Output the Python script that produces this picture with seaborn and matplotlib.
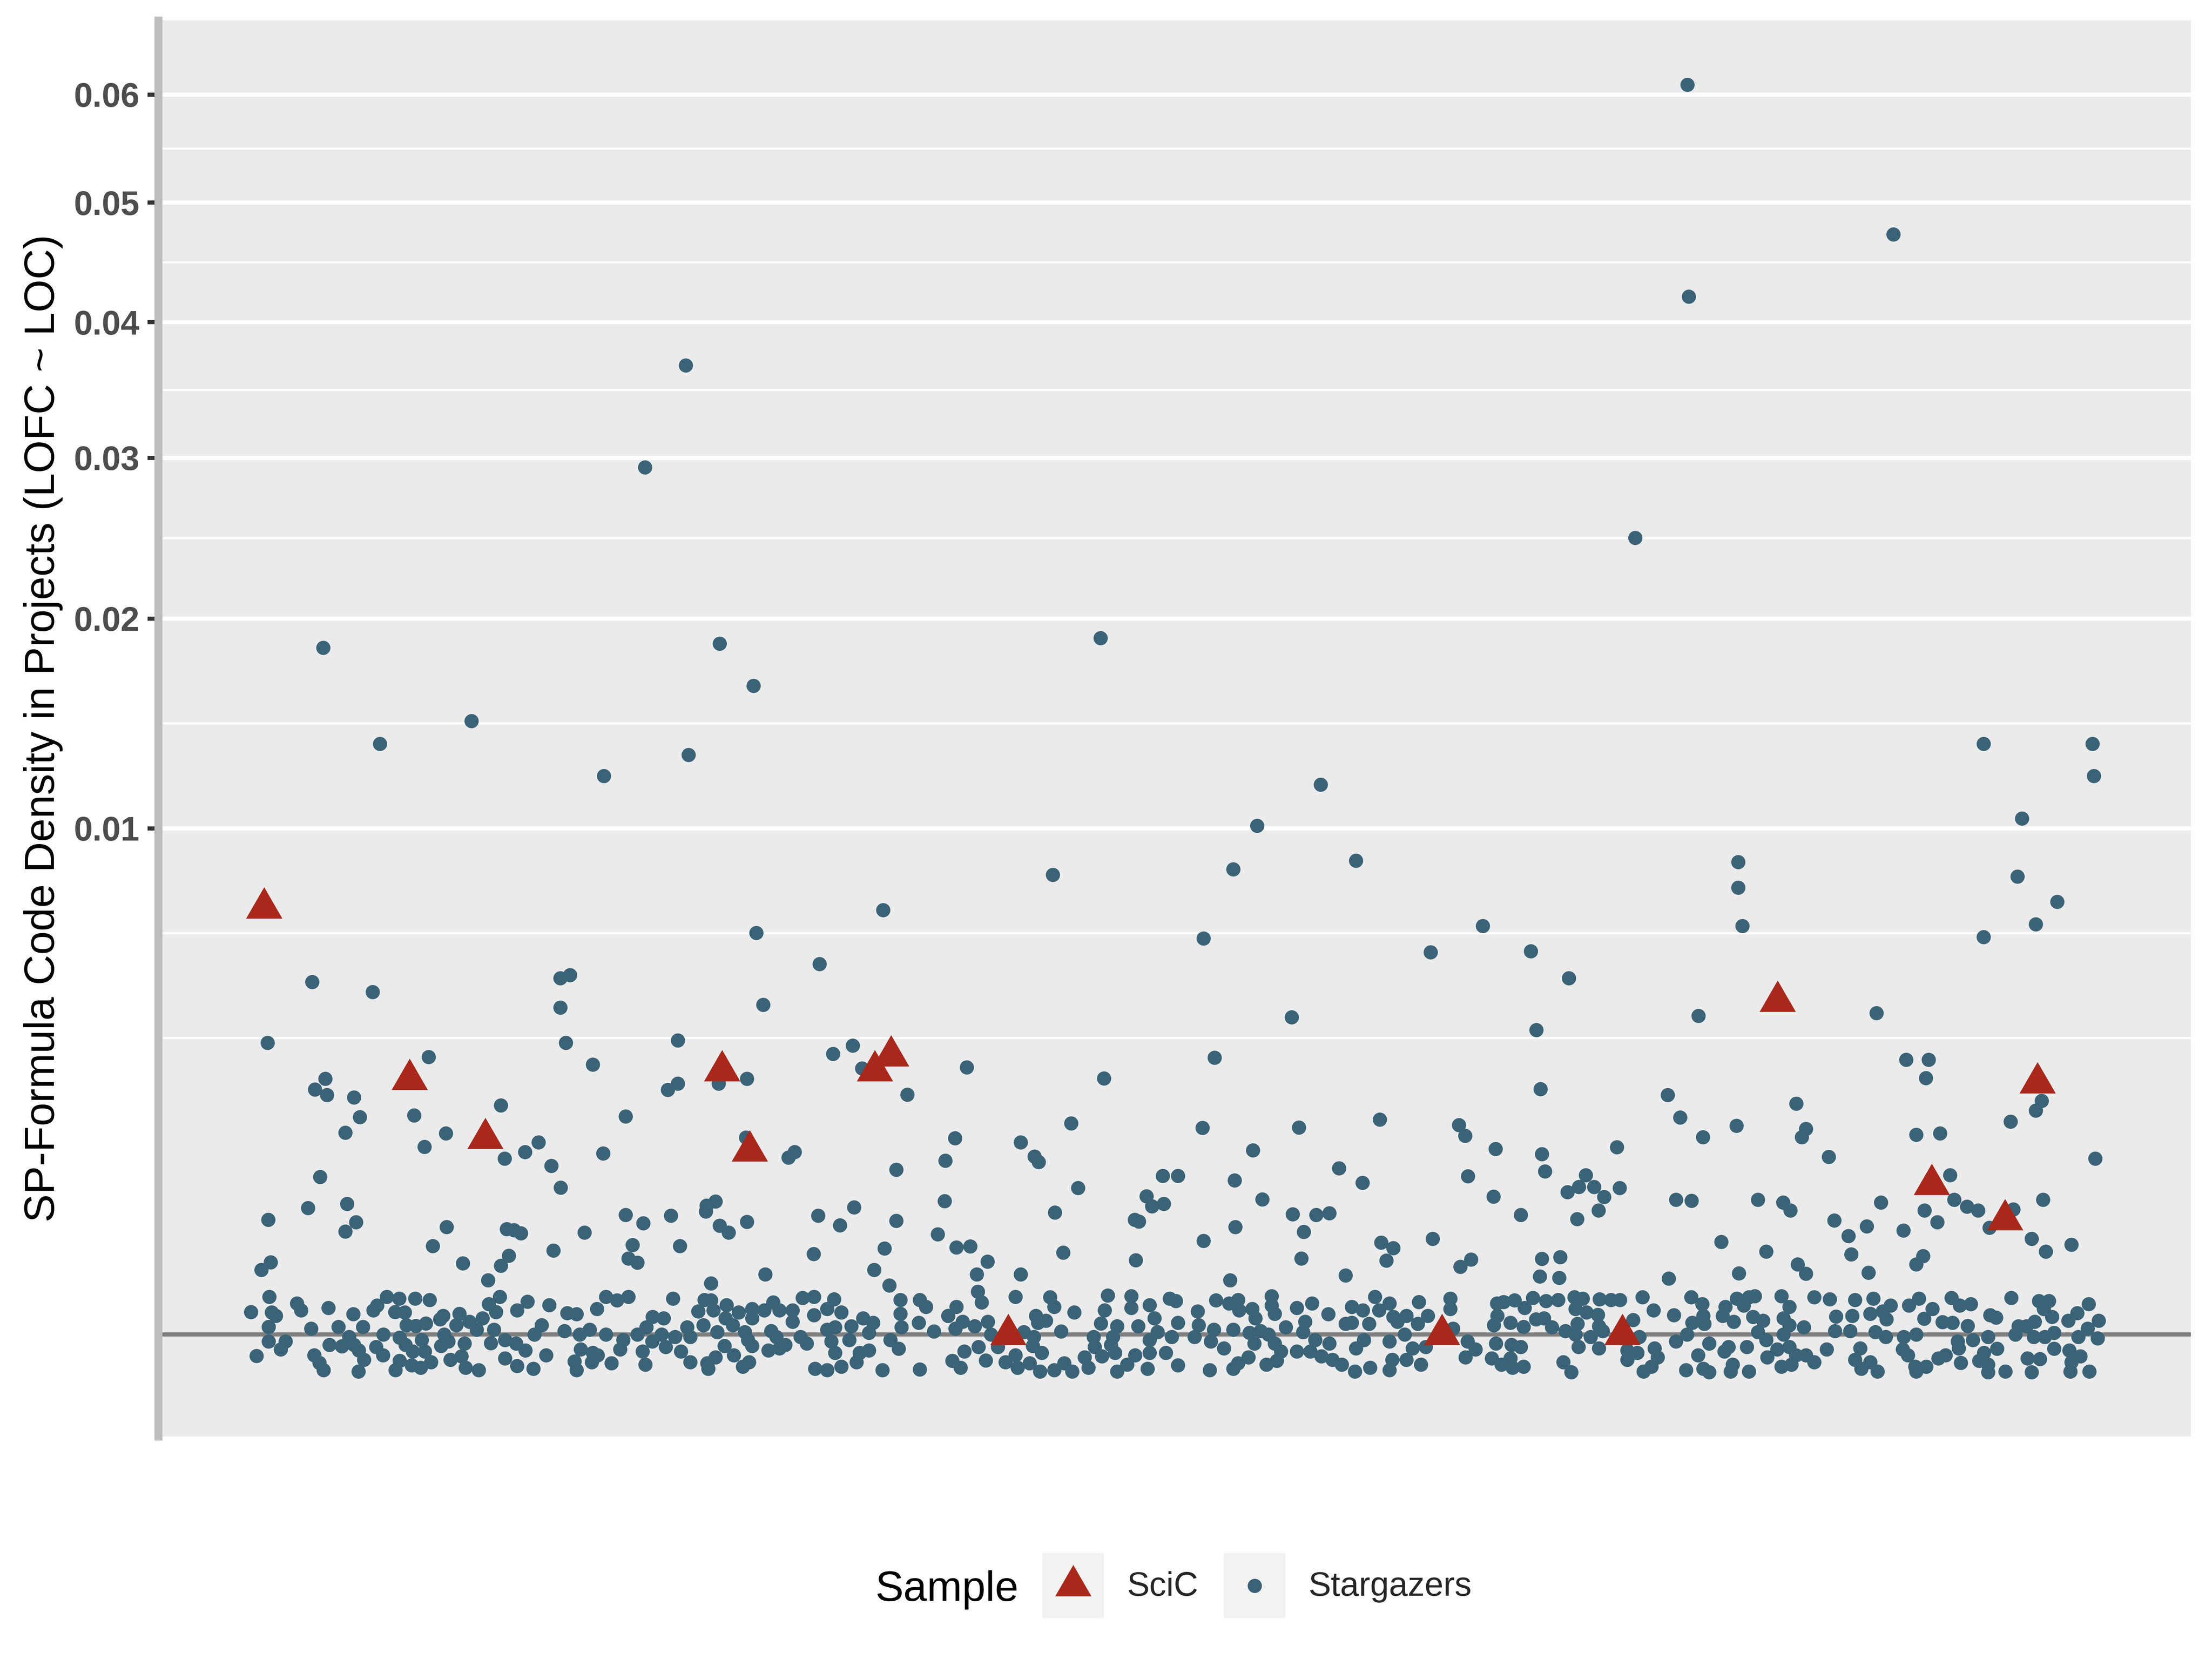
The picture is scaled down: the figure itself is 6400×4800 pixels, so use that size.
import numpy as np
import pandas as pd
import matplotlib
matplotlib.use('Agg')
import matplotlib.pyplot as plt
import seaborn as sns
from matplotlib.markers import MarkerStyle
from matplotlib.path import Path
from matplotlib.lines import Line2D
from matplotlib.patches import Rectangle
from matplotlib.legend_handler import HandlerBase
from matplotlib.ticker import FixedLocator

# (x position, density in millionths)
sg_upper_left = [(93.4, 18410), (198.3, 36650), (186.5, 29360), (208.1, 18640), (217.9, 16420),
                 (136.3, 14690), (109.8, 13620), (199.1, 13110), (174.6, 12170), (218.7, 6300),
                 (237.0, 5360), (164.8, 5040), (162.0, 4960), (90.2, 4850), (107.7, 4580)]

sg_mid_left = [(162.0, 4173), (220.7, 4246), (77.3, 3321), (163.6, 3321), (196.0, 3373), (246.6, 3257),
               (240.9, 3075), (123.9, 3008), (171.4, 2842), (249.3, 2768), (94.0, 2553), (91.0, 2346),
               (94.5, 2242), (102.3, 2192), (196.0, 2455), (193.1, 2335), (207.8, 2455), (216.0, 2553),
               (144.8, 2048), (104.0, 1842), (119.7, 1873), (180.9, 1858), (99.8, 1588), (128.9, 1577),
               (122.7, 1373), (155.7, 1440), (151.8, 1300), (145.9, 1207), (159.4, 1112), (174.4, 1280),
               (215.7, 1517), (229.8, 1298), (228.0, 1223), (92.5, 970), (162.1, 844), (89.0, 624),
               (100.3, 668), (77.5, 515), (102.9, 493), (99.8, 413), (129.1, 451), (146.5, 434),
               (148.6, 425), (150.6, 401), (169.0, 407), (180.9, 557), (186.0, 484), (194.0, 552),
               (204.3, 650), (206.9, 692), (204.1, 590), (208.1, 462), (210.7, 407), (216.0, 497),
               (236.6, 553), (242.9, 465), (247.0, 633), (125.1, 306), (182.9, 312), (196.6, 306),
               (181.7, 226), (184.3, 201), (160.0, 276), (147.1, 242), (144.8, 184), (133.8, 198),
               (78.2, 204), (75.5, 163), (235.3, 254)]

sg_upper_centre = [(255.4, 7030), (318.2, 18940), (304.4, 8250), (348.0, 6120), (356.6, 8450),
                   (363.5, 10110), (381.9, 11800), (392.1, 8760), (413.7, 5700), (428.8, 6520)]

sg_mid_centre = [(373.5, 3928), (279.6, 2783), (351.2, 2990), (319.2, 2558), (262.4, 2244), (309.7, 1740),
                 (347.7, 1666), (375.6, 1673), (399.0, 1803), (421.9, 1710), (423.7, 1541), (432.5, 1343),
                 (276.2, 1507), (295.1, 1440), (299.1, 1238), (300.3, 1163), (259.2, 1059), (273.4, 1178),
                 (362.3, 1326), (387.2, 1081), (394.0, 897), (424.5, 977), (336.2, 981), (340.6, 981),
                 (357.0, 929), (311.7, 840), (331.5, 745), (333.1, 641), (336.5, 668), (365.0, 714),
                 (273.2, 696), (431.9, 742), (305.0, 581), (259.2, 505), (328.1, 515), (329.3, 500),
                 (373.8, 565), (380.6, 559), (384.4, 573), (357.2, 452), (377.0, 411), (271.2, 393),
                 (255.8, 288), (276.6, 296), (280.6, 303), (307.4, 263), (348.0, 343), (399.4, 331),
                 (402.9, 291), (414.3, 357), (376.3, 226), (400.9, 214), (425.4, 219), (422.3, 180),
                 (252.8, 163), (285.6, 208), (328.4, 216)]

sg_right = [(488.0, 60960), (488.4, 42060), (547.5, 47240), (472.9, 24780), (573.6, 13620), (605.1, 13620),
            (605.5, 12170), (584.7, 10390), (502.7, 8710), (502.7, 7800), (583.4, 8190), (594.9, 7310),
            (503.9, 6520), (588.7, 6570), (573.6, 6170), (442.7, 5740), (453.7, 4960), (491.2, 3960),
            (542.6, 4030), (444.3, 3620), (551.2, 2950), (557.7, 2950), (556.9, 2570), (445.5, 2350),
            (482.3, 2240), (519.4, 2080), (485.9, 1837), (588.7, 1960), (590.4, 2130), (581.4, 1770),
            (522.2, 1650), (502.2, 1700), (554.1, 1560), (561.0, 1580), (492.5, 1520), (521.0, 1520),
            (467.6, 1370), (445.9, 1270), (528.8, 1230), (605.9, 1210), (446.8, 1040), (458.6, 990),
            (563.9, 990), (468.4, 840), (456.6, 850), (461.0, 850), (453.3, 790), (463.9, 740),
            (565.1, 710), (508.4, 710), (543.9, 680), (484.7, 710), (489.2, 700), (515.7, 680),
            (568.8, 640), (572.0, 600), (582.2, 610), (590.8, 710), (517.8, 600), (556.5, 600),
            (575.3, 446), (560.2, 494), (462.3, 600), (456.1, 519), (439.8, 558), (530.4, 507),
            (534.5, 378), (550.4, 423), (587.5, 357), (599.0, 316), (591.6, 268), (497.8, 336),
            (445.9, 224), (451.2, 233), (519.8, 192), (535.3, 250), (554.1, 192), (556.1, 241),
            (539.8, 458), (510.8, 268)]

sg_band_1 = [(141.1, 115), (77.8, 55), (72.5, 20), (78.5, 19), (79.7, 13.5), (77.6, 2.3), (77.6, -1.8),
             (82.5, -1.8), (81.1, -8.6), (74.1, -18), (85.8, 38), (87.0, 23), (94.9, 28), (89.9, 1.4),
             (102.1, 16), (97.8, 2.3), (104.9, 2.3), (100.9, -0.2), (95.2, -4.1), (98.8, -5.5),
             (102.3, -4.1), (103.7, -9.9), (90.8, -16.5), (92.3, -31), (93.5, -49), (103.6, -53),
             (105.2, -25), (107.9, 23), (109.0, 33), (111.8, 55), (115.4, 50), (120.0, 50), (124.2, 47),
             (114.2, 20), (117.0, 19), (117.5, 3.5), (120.2, 3.0), (123.1, 4.8), (110.8, 0), (108.7, -6),
             (110.7, -16.5), (115.5, -0.4), (117.2, -4.1), (119.3, -11.4), (121.9, -1.2), (122.8, -11.4),
             (115.5, -27), (114.3, -49), (119.0, -37), (121.6, -43), (124.6, -30), (128.1, 13.5),
             (127.2, 9), (132.8, 17), (131.9, 3.5), (135.7, 6.5), (137.8, 0.9), (139.5, 10.4), (141.3, 36),
             (143.4, 20), (144.5, 55), (142.8, 0.9), (128.4, 0), (129.6, -1.8), (127.5, -5), (134.3, -3.2),
             (130.2, -25), (133.4, -18.4), (134.6, -43), (138.4, -49), (141.9, -2.8), (146.0, -1.2),
             (149.2, -3.2), (146.0, -22.5), (149.5, -39), (152.5, 42.5), (149.5, 23), (154.5, 0),
             (151.9, -9.9), (154.2, -46), (156.6, 3.5)]

sg_band_2 = [(205.6, 102), (221.3, 141), (158.8, 34), (157.9, -16.5), (164.0, 18), (166.7, 16), (163.2, 0.5),
             (167.6, 0), (170.5, 0.9), (172.6, 25.5), (175.2, 55), (178.4, 46), (181.7, 55), (175.2, 0),
             (167.9, -8.6), (171.4, -13), (172.8, -16.5), (166.1, -28), (166.7, -49), (171.1, -30),
             (176.8, -32), (180.2, -1.2), (179.3, -8.6), (184.3, 0), (186.9, 2), (188.7, 12), (191.9, 10.4),
             (188.6, -1.8), (191.3, 0), (195.2, -0.2), (192.5, -6), (185.8, -11.4), (186.6, -35),
             (196.9, -11.4), (198.7, 2), (199.6, -0.2), (199.6, -30), (194.6, 50), (201.9, 21), (203.7, 47),
             (205.6, 46), (203.4, 3.5), (206.3, 23), (207.4, 0.2), (210.1, 34), (209.8, 10.4), (211.9, 3.5),
             (213.6, 19), (217.5, 25.5), (217.5, 10.4), (221.0, 23), (223.6, 40), (225.4, 23), (229.2, 23),
             (229.2, 6.5), (232.1, 52), (235.4, 55), (235.4, 14.4), (239.2, 25.5), (241.2, 49), (243.3, 19),
             (241.5, 2), (246.2, 2.7), (245.6, -1.2), (215.4, 0.2), (217.5, -5), (216.3, -1.2), (223.0, 0.5),
             (224.5, -0.2), (227.1, -4.1), (222.2, -9.9), (225.4, -7.3), (231.5, -0.2), (233.3, -3.2),
             (209.5, -5), (206.9, -20.4), (212.2, -16.5), (214.8, -40), (216.6, -30), (204.8, -46),
             (204.5, -32), (235.7, -46), (239.2, -49), (243.3, -40), (240.4, -1.8), (241.5, -13),
             (247.7, -30), (248.6, -13), (239.2, 0.9)]

sg_band_3 = [(282.5, 141), (295.1, 141), (257.2, 94), (260.4, 47), (260.4, 17), (260.7, 2), (266.0, 47),
             (267.8, 30), (265.7, 5.3), (270.1, 0.4), (249.6, 10.4), (252.5, 5.3), (251.3, 0.1),
             (257.5, -1.2), (259.9, -7.9), (251.3, -9.9), (255.2, -49), (266.0, -47.5), (276.6, 30),
             (274.2, 13.5), (278.4, 6.5), (276.3, 1.4), (281.9, 2.7), (285.7, 6.5), (286.6, 0), (282.8, 72),
             (283.9, 40), (293.6, 55), (283.0, -6), (278.9, -11.4), (275.4, -27), (277.8, -43), (285.1, -26),
             (288.6, -6), (290.7, -30), (293.6, -16.5), (294.2, -43), (296.0, 0.2), (298.9, -0.2),
             (298.6, -5), (301.2, -13), (297.7, -32), (299.5, 13.5), (300.1, 5.3), (302.4, 7.6), (303.6, 54),
             (304.8, 30), (310.6, 19), (306.8, 0.4), (300.7, -53), (304.8, -49), (307.7, -32), (310.0, -53),
             (313.6, -20.4), (314.7, -43), (316.2, -0.2), (316.5, -6), (318.6, -18.4), (320.3, 60),
             (319.4, 23), (318.3, 4.8), (323.0, 2.7), (321.8, -0.2), (321.2, -4.1), (322.4, -13),
             (323.0, -53), (327.1, 57), (327.1, 28), (329.1, 2.7), (332.4, 34), (333.8, 10.4), (334.7, 0.2),
             (332.4, -1.2), (332.4, -13), (328.2, -16.5), (325.9, -35), (331.8, -46), (338.2, 50),
             (340.0, 44), (340.6, 5.3), (338.8, -0.2), (337.1, -13), (340.6, -37)]

sg_band_4 = [(355.7, 115), (389.1, 136), (346.3, 21), (346.6, 3.5), (351.6, 46), (355.4, 38), (358.0, 47),
             (358.3, 23), (362.1, 25.5), (363.0, 10.4), (367.7, 57), (367.7, 33), (368.6, 17), (345.4, -0.2),
             (351.0, 0.9), (356.6, 0.9), (350.1, -1.8), (353.9, -7.3), (349.8, -49), (361.3, 0.1),
             (364.5, 0.5), (366.8, 0), (362.7, -3.2), (368.6, -3.2), (370.4, -11.4), (369.2, -27),
             (366.2, -35), (361.0, -20.4), (358.0, -32), (356.6, -46), (375.0, 28), (379.4, 38), (384.1, 16),
             (371.8, 2), (377.4, 6.5), (376.8, 0.2), (380.3, -1.2), (384.4, -3.2), (375.0, -11.4),
             (378.9, -11.4), (382.1, -18.4), (385.3, -25), (388.0, -35), (390.9, 5.3), (389.1, 4.4),
             (390.9, 30), (394.1, 23), (397.6, 55), (398.8, 23), (401.8, 38), (402.9, 12), (395.9, 4.4),
             (394.4, -1.2), (392.1, -7.3), (401.8, -1.8), (406.2, 0), (404.1, 6.5), (406.7, 13.5),
             (410.3, 41), (410.0, 4.4), (412.9, 13.5), (419.4, 50), (419.4, 25.5), (420.2, 1.4), (412.3, -6),
             (408.5, -7.3), (406.7, -25), (410.9, -35), (402.6, -25), (401.8, -49), (396.2, -43),
             (391.8, -53), (424.4, -1.8), (426.7, -8.6), (423.8, -20.4), (432.9, 38), (432.0, 3.5),
             (432.6, -3.2), (431.4, -22.5)]

sg_band_5 = [(445.3, 131), (450.9, 126), (482.6, 123), (502.9, 146), (522.2, 144), (434.8, 41), (438.0, 46),
             (440.9, 28), (443.3, 52), (447.1, 44), (450.6, 47), (455.3, 54), (457.7, 50), (455.6, 25.5),
             (458.8, 19), (462.6, 49), (465.9, 47), (468.5, 47), (462.1, 15), (475.0, 54), (478.2, 23),
             (484.1, 14.4), (433.0, 13.5), (436.8, 5.3), (440.6, 2.3), (444.2, 9), (446.5, 10.4), (448.8, 2),
             (452.7, 0.5), (456.2, 4.4), (455.6, 0), (462.4, 2.7), (463.5, 0.5), (460.0, -0.2), (456.5, -6),
             (462.4, -7.3), (472.3, 8.3), (474.1, -0.2), (437.1, -4.1), (439.8, -6), (436.8, -22.5),
             (434.2, -35), (437.4, -43), (440.6, -40), (452.1, -30), (454.4, -55), (470.6, -9.9),
             (470.6, -25), (473.5, -13), (475.3, -53), (477.6, -40), (478.5, -7.3), (479.4, -20.4),
             (484.7, -1.8), (487.9, 0), (489.4, 5.3), (489.1, 54), (492.3, 36), (492.6, 13.5), (492.9, 4.4),
             (494.3, -3.2), (491.1, -16.5), (492.6, -46), (494.3, -55), (487.6, -49), (499.0, 30),
             (498.2, 13.5), (501.4, 6.5), (502.3, 50), (504.3, 33), (505.8, 54), (507.5, 57), (507.0, 12),
             (509.9, 7.6), (508.4, 0.2), (510.8, -1.2), (515.2, 57), (517.5, 30), (515.8, 10.4), (517.5, 3.5),
             (515.8, 0), (517.5, -6), (521.6, 2), (524.6, 54), (498.7, -11.4), (499.9, -6), (501.1, -35),
             (505.2, -6), (505.8, -53), (500.5, -53), (511.1, -20.4), (514.0, -8.6), (515.2, -40),
             (518.1, -35), (522.2, -16.5), (524.6, -30), (519.3, -16.5)]

sg_band_6 = [(540.3, 149), (529.1, 49), (536.4, 47), (541.7, 50), (546.7, 33), (552.0, 33), (554.9, 50),
             (558.8, 25.5), (556.4, 9.7), (530.9, 12.7), (535.6, 13.5), (540.8, 17), (544.4, 21), (545.5, 9),
             (530.6, 0.5), (535.0, 0.5), (542.3, 0.2), (545.3, -0.2), (550.5, -0.2), (554.1, 0), (564.3, 52),
             (566.7, 33), (569.9, 36), (561.7, 5.9), (564.6, 5.3), (569.0, 3), (575.5, 14.4), (577.2, 11.2),
             (581.6, 52), (589.6, 44), (592.5, 44), (591.0, 25.5), (593.4, 12), (588.4, 6.5), (583.7, 2.7),
             (582.8, 0), (586.0, 2.7), (588.1, -0.2), (591.3, -0.2), (594.0, 0.1), (598.1, 7.6), (600.7, 18),
             (604.0, 36), (606.9, 7.6), (603.7, 1.4), (601.0, -0.2), (606.6, -0.6), (594.0, -7.9),
             (598.4, -9.9), (601.6, -18.4), (599.0, -30), (598.7, -53), (604.2, -53), (586.3, -22.5),
             (589.9, -23.5), (587.5, -55), (579.9, -53), (577.5, -7.9), (573.7, -13), (572.3, -27),
             (574.9, -35), (574.9, -55), (570.5, -1.2), (574.9, -0.2), (566.1, -1.8), (566.4, -7.3),
             (567.0, -31), (562.6, -16.5), (560.5, -22.5), (553.8, -40), (557.0, -40), (554.1, -53),
             (550.2, -8.6), (551.7, -16.5), (537.9, -7.3), (536.4, -25), (540.8, -30), (542.9, -53),
             (538.2, -46), (528.2, -8.6)]

scic_points = [(76.3, 7098), (118.4, 2539), (140.3, 1498), (208.8, 2713), (216.8, 1316), (253.0, 2713),
               (257.7, 3026), (291.5, 0), (417.0, 0), (469.2, 0), (514.1, 4337), (558.6, 877),
               (579.8, 513), (589.2, 2469)]

y_ticks = [0.01, 0.02, 0.03, 0.04, 0.05, 0.06]
y_tick_labels = ['0.01', '0.02', '0.03', '0.04', '0.05', '0.06']
samples = ['SciC', 'Stargazers']

RED = '#AA281B'
BLUE = '#3B6378'


def to_frame(points, sample):
    df = pd.DataFrame(points, columns=['x', 'ppm'])
    df['density'] = df['ppm'] * 1e-6
    df['Sample'] = sample
    return df


stars = pd.concat([to_frame(p, 'Stargazers') for p in
                   [sg_upper_left, sg_mid_left, sg_upper_centre, sg_mid_centre, sg_right,
                    sg_band_1, sg_band_2, sg_band_3, sg_band_4, sg_band_5, sg_band_6]],
                  ignore_index=True)
scic = to_frame(scic_points, 'SciC')


def fwd(v):
    v = np.asarray(v, dtype=float)
    return np.sign(v) * np.sqrt(np.abs(v))


def inv(v):
    v = np.asarray(v, dtype=float)
    return np.sign(v) * v ** 2


class KeyHandler(HandlerBase):
    """ggplot-like legend key: light grey square with the marker centred in it."""

    def create_artists(self, legend, orig_handle, xdescent, ydescent, width, height, fontsize, trans):
        rect = Rectangle((-xdescent, -ydescent), width, height, facecolor='#F2F2F2',
                         edgecolor='none', transform=trans)
        cx = -xdescent + width / 2
        cy = -ydescent + height / 2
        mk = Line2D([cx], [cy], marker=orig_handle.get_marker(), color=orig_handle.get_color(),
                    ms=orig_handle.get_markersize(), ls='none', mew=0, transform=trans)
        return [rect, mk]


sns.set_theme(style='darkgrid', rc={'axes.facecolor': '#EBEBEB', 'grid.color': 'white'})
plt.rcParams['font.family'] = ['Liberation Sans', 'DejaVu Sans']

# triangle centred on its centroid, like R's pch 17
tri = MarkerStyle(Path([(0, 1), (-0.866, -0.5), (0.866, -0.5), (0, 1)],
                       [Path.MOVETO, Path.LINETO, Path.LINETO, Path.CLOSEPOLY]))

fig = plt.figure(figsize=(8, 6), dpi=800)
ax = fig.add_axes([0.0716, 0.1342, 0.9189, 0.8535])

ax.axhline(0, color='#7F7F7F', lw=1.07, zorder=1.8)
sns.scatterplot(data=stars, x='x', y='density', color=BLUE, s=3.7 ** 2, linewidth=0,
                ax=ax, zorder=2, legend=False)
sns.scatterplot(data=scic, x='x', y='density', color=RED, marker=tri, s=10.9 ** 2, linewidth=0,
                ax=ax, zorder=3, legend=False)

ax.set_yscale('function', functions=(fwd, inv))
ax.margins(x=0.05, y=0.05)
ax.autoscale_view()

# ggplot-style minor breaks: midpoints in sqrt space, extended one step below
t = np.sqrt(y_ticks)
bd = t[1] - t[0]
ext = np.concatenate([[t[0] - bd], t, [t[-1] + bd]])
minor_t = np.concatenate([(ext[:-1] + ext[1:]) / 2, [ext[0]]])
ax.set_yticks(y_ticks)
ax.set_yticklabels(y_tick_labels)
ax.yaxis.set_minor_locator(FixedLocator(list(minor_t ** 2)))

ax.set_axisbelow(True)
ax.grid(False)
ax.yaxis.grid(True, which='major', color='white', lw=1.07)
ax.yaxis.grid(True, which='minor', color='white', lw=0.53)
ax.xaxis.grid(False)

ax.tick_params(axis='y', which='major', length=2.75, width=1.07, color='#333333', pad=2.2,
               labelsize=8.8, labelcolor='#4D4D4D', left=True)
ax.tick_params(axis='y', which='minor', length=0)
for lab in ax.get_yticklabels():
    lab.set_fontweight('bold')
ax.set_xticks([])
ax.set_xlabel('')
ax.set_ylabel('SP-Formula Code Density in Projects (LOFC ~ LOC)', fontsize=11, color='black',
              labelpad=2.75)

for side in ['top', 'right', 'bottom']:
    ax.spines[side].set_visible(False)
ax.spines['left'].set_visible(True)
ax.spines['left'].set_color('#BEBEBE')
ax.spines['left'].set_linewidth(2.07)

# legend at the bottom, title on the left
handles = [Line2D([], [], marker=tri, color=RED, ms=10.9, ls='none'),
           Line2D([], [], marker='o', color=BLUE, ms=3.7, ls='none')]
key = KeyHandler()
fig.legend(handles, samples, handler_map={h: key for h in handles},
           loc='center left', bbox_to_anchor=(0.4713, 0.0442), ncol=2, frameon=False,
           fontsize=8.8, handlelength=1.82, handleheight=2.6, handletextpad=0.68,
           columnspacing=0.75, borderpad=0, borderaxespad=0)
fig.text(0.4605, 0.0351, 'Sample', ha='right', va='baseline', fontsize=11, color='black')

fig.savefig('out.png', dpi=800)
